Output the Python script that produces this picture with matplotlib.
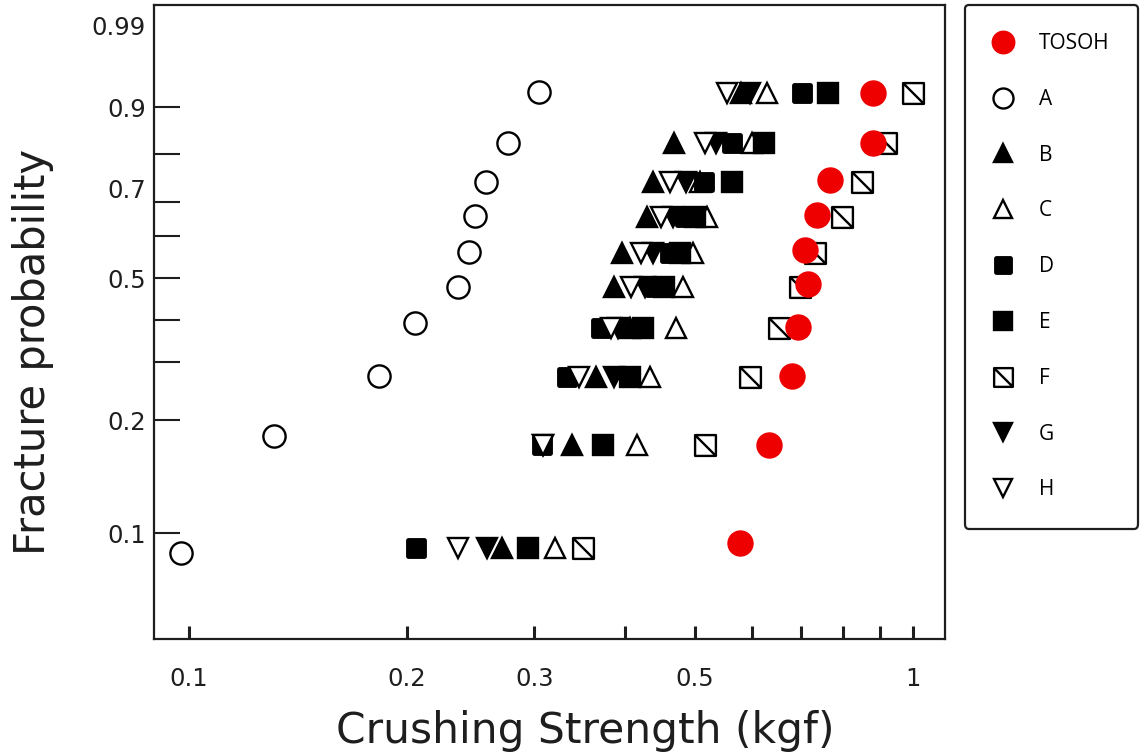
import matplotlib
matplotlib.use('Agg')
from matplotlib import pyplot as plt
from matplotlib.path import Path
from matplotlib.markers import MarkerStyle
from matplotlib.ticker import NullFormatter

# Положение строк по вертикали (шкала Вейбулла, ln(-ln(1-F)))
rows_y = [1.078, 0.688, 0.383, 0.110, -0.172, -0.437, -0.758, -1.140, -1.672, -2.476]
rows_a = [1.086, 0.688, 0.383, 0.117, -0.164, -0.437, -0.719, -1.133, -1.602, -2.516]
rows_tosoh = [1.078, 0.688, 0.399, 0.125, -0.148, -0.414, -0.750, -1.133, -1.672, -2.437]

# Прочность на раздавливание (kgf), сверху вниз
tosoh = [0.881, 0.881, 0.768, 0.737, 0.709, 0.716, 0.694, 0.681, 0.633, 0.577]
a_vals = [0.304, 0.276, 0.257, 0.248, 0.244, 0.235, 0.205, 0.183, 0.131, 0.0975]
b_vals = [0.579, 0.468, 0.437, 0.429, 0.396, 0.386, 0.406, 0.365, 0.338, 0.271]
c_vals = [0.629, 0.599, 0.508, 0.519, 0.497, 0.481, 0.471, 0.433, 0.416, 0.320]
d_vals = [0.703, 0.562, 0.515, 0.484, 0.462, 0.440, 0.371, 0.333, 0.307, 0.206]
e_vals = [0.763, 0.622, 0.562, 0.500, 0.477, 0.453, 0.424, 0.406, 0.373, 0.294]
f_vals = [1.000, 0.918, 0.850, 0.798, 0.732, 0.698, 0.653, 0.596, 0.516, 0.350]
g_vals = [0.596, 0.534, 0.486, 0.466, 0.437, 0.426, 0.391, 0.386, 0.308, 0.258]
h_vals = [0.553, 0.516, 0.462, 0.449, 0.421, 0.408, 0.383, 0.346, 0.308, 0.235]

x_major = [0.1, 0.2, 0.3, 0.5, 1.0]
x_major_labels = ['0.1', '0.2', '0.3', '0.5', '1']
x_minor = [0.4, 0.6, 0.7, 0.8, 0.9]

y_ticks = [0.969, 0.602, 0.227, -0.039, -0.367, -0.695, -1.023, -1.477, -2.359]
y_tick_labels = ['0.9', '', '', '', '0.5', '', '', '0.2', '0.1']
y_extra = [1.610, 0.336]
y_extra_labels = ['0.99', '0.7']

# квадрат с диагональю для серии F
box_diag = Path([(-0.5, -0.5), (0.5, -0.5), (0.5, 0.5), (-0.5, 0.5), (-0.5, -0.5),
                 (-0.5, 0.5), (0.5, -0.5)],
                [Path.MOVETO, Path.LINETO, Path.LINETO, Path.LINETO, Path.CLOSEPOLY,
                 Path.MOVETO, Path.LINETO])

ew = 1.7
series = [
    ('A', a_vals, rows_a, dict(marker='o', mfc='white', mec='black', ms=16, mew=ew)),
    ('B', b_vals, rows_y, dict(marker='^', mfc='black', mec='black', ms=15, mew=ew)),
    ('C', c_vals, rows_y, dict(marker='^', mfc='white', mec='black', ms=15, mew=ew)),
    ('D', d_vals, rows_y, dict(marker=MarkerStyle('s', joinstyle='round'), mfc='black',
                               mec='black', ms=11, mew=3.5)),
    ('E', e_vals, rows_y, dict(marker='s', mfc='black', mec='black', ms=14, mew=ew)),
    ('F', f_vals, rows_y, dict(marker=box_diag, mfc='white', mec='black', ms=15, mew=ew)),
    ('G', g_vals, rows_y, dict(marker='v', mfc='black', mec='black', ms=15, mew=ew)),
    ('H', h_vals, rows_y, dict(marker='v', mfc='white', mec='black', ms=15, mew=ew)),
    ('TOSOH', tosoh, rows_tosoh, dict(marker='o', mfc='#ee0000', mec='#ee0000', ms=18, mew=1)),
]

plt.rcParams['font.family'] = ['DejaVu Sans']

fig = plt.figure(figsize=(11.47, 7.55), dpi=100)
ax = fig.add_axes([0.1343, 0.1536, 0.6896, 0.8397])

handles = {}
for name, xs, ys, st in series:
    line, = ax.plot(xs, ys, linestyle='none', label=name, **st)
    handles[name] = line

ax.set_xscale('log')
ax.set_xlim(0.0895, 1.107)
ax.set_ylim(-3.187, 1.766)

txt = '#1e1e1e'
ax.set_xticks(x_major, labels=x_major_labels)
ax.set_xticks(x_minor, minor=True)
ax.xaxis.set_minor_formatter(NullFormatter())
ax.tick_params(axis='x', which='both', direction='in', length=9.5, width=2.2,
               pad=20, labelsize=17.5, colors=txt)

ax.set_yticks(y_ticks, labels=y_tick_labels)
ax.set_yticks(y_extra, labels=y_extra_labels, minor=True)
ax.tick_params(axis='y', which='major', direction='in', length=19, width=1.5,
               pad=6, labelsize=17.5, colors=txt)
ax.tick_params(axis='y', which='minor', length=0, pad=6, labelsize=17.5, colors=txt)
ax.tick_params(top=False, right=False)

for s in ax.spines.values():
    s.set_linewidth(1.6)
    s.set_color(txt)

ax.set_xlabel('Crushing Strength (kgf)', fontsize=30.5, color=txt)
ax.xaxis.set_label_coords(0.545, -0.112)
ax.set_ylabel('Fracture probability', fontsize=30, color=txt)
ax.yaxis.set_label_coords(-0.126, 0.453)

order = ['TOSOH', 'A', 'B', 'C', 'D', 'E', 'F', 'G', 'H']
leg = fig.legend([handles[k] for k in order], order, loc='upper left',
                 bbox_to_anchor=(965 / 1147, 1 - 5 / 755), borderaxespad=0,
                 prop={'family': ['Open Sans', 'DejaVu Sans'], 'size': 15},
                 labelspacing=1.67, borderpad=1.35, handlelength=0.95,
                 handletextpad=1.25, markerscale=0.9, fancybox=True, framealpha=1)
leg.get_frame().set_edgecolor(txt)
leg.get_frame().set_linewidth(1.6)

fig.savefig('out.png', dpi=100)
